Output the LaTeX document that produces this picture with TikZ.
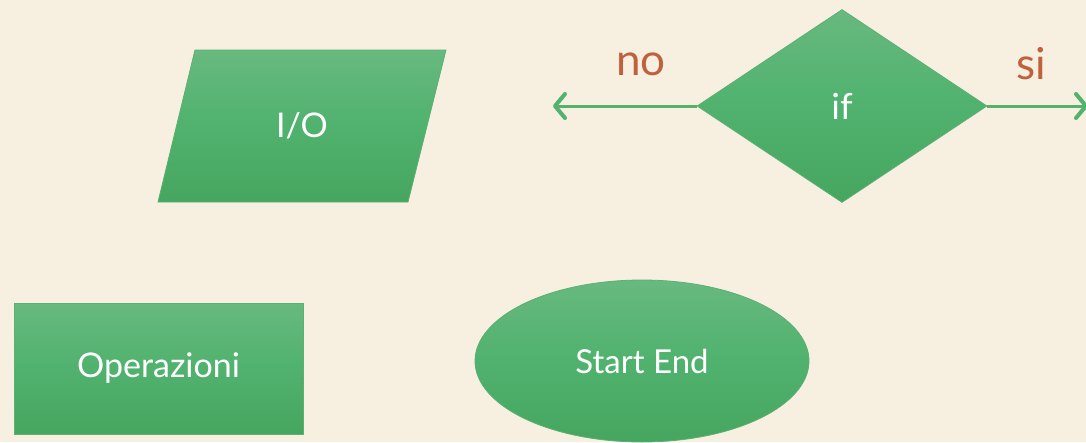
\documentclass[tikz,border=0pt]{standalone}
\usepackage{fontspec}
\setmainfont{Lato}
\usetikzlibrary{shapes.geometric,arrows.meta}
\definecolor{bg}{RGB}{247,239,223}
\definecolor{gtop}{RGB}{104,185,127}
\definecolor{gmid}{RGB}{80,178,110}
\definecolor{gbot}{RGB}{70,166,96}
\definecolor{gedge}{RGB}{92,176,114}
\definecolor{lbl}{RGB}{192,96,60}
\definecolor{arrowc}{RGB}{82,178,110}
\tikzset{
  greenshape/.style={draw=gedge, line width=0.8pt, top color=gtop, bottom color=gbot, middle color=gmid, text=white},
  connector/.style={draw=arrowc, line width=3pt, -{Straight Barb[length=10pt,width=24pt,line width=4pt,line cap=round,round]}},
  choice/.style={text=lbl, font=\fontsize{44}{50}\selectfont},
}
\begin{document}
\begin{tikzpicture}[x=1pt,y=-1pt]
\fill[bg] (0,0) rectangle (1086,442);
\useasboundingbox (0,0) rectangle (1086,442);
% parallelogram I/O
\path[greenshape] (195,50) -- (446,50) -- (408,202) -- (158,202) -- cycle;
\node[text=white, font=\fontsize{34}{40}\selectfont] (io) at (302,126) {I/O};
% rectangle
\node[greenshape, rectangle, minimum width=289pt, minimum height=131pt, font=\fontsize{34}{40}\selectfont] (op) at (158.5,368.5) {Operazioni};
% ellipse
\node[greenshape, ellipse, minimum width=334pt, minimum height=162pt, font=\fontsize{33}{40}\selectfont] (se) at (642,361) {Start End};
% diamond
\node[greenshape, diamond, minimum width=290pt, minimum height=193pt, inner sep=0pt, font=\fontsize{36}{40}\selectfont] (if) at (842,106) {if};
% connectors
\coordinate (noend) at (553,106);
\coordinate (siend) at (1088,106);
\draw[connector] (if.west) -- (noend);
\draw[connector] (if.east) -- (siend);
\node[choice] (no) at (641,64) {no};
\node[choice] (si) at (1031,64) {si};
\end{tikzpicture}
\end{document}
